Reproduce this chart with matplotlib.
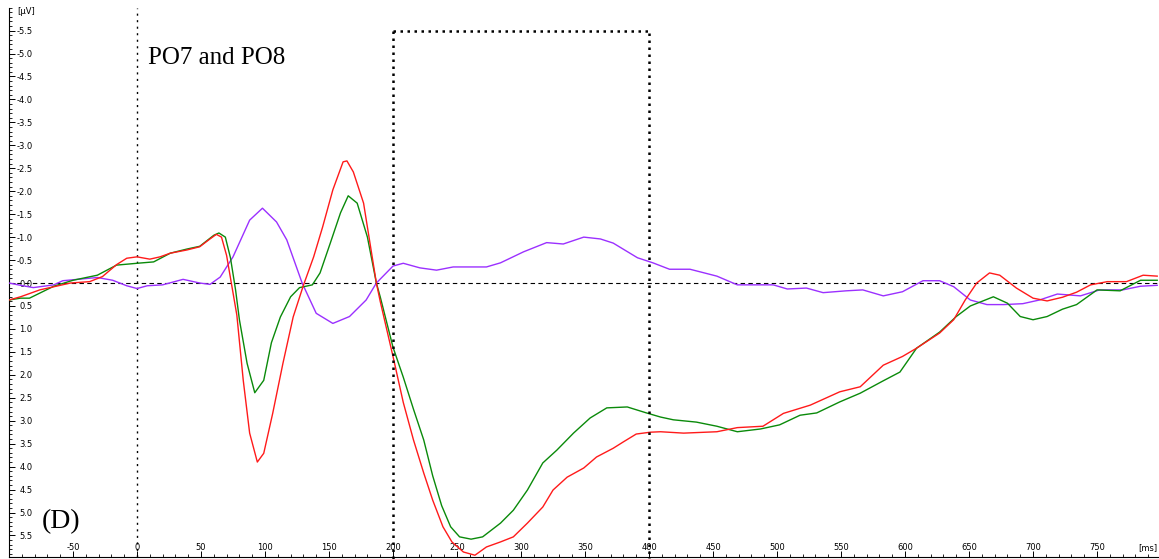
import numpy as np
import matplotlib
matplotlib.use("Agg")
import matplotlib.pyplot as plt
from matplotlib.ticker import MultipleLocator, FixedLocator, FuncFormatter

# grand-average ERP at PO7/PO8, negative up
red_t = [-100, -91, -76, -60, -52, -37, -27, -16, -8, 0, 10, 18, 26, 39, 49, 57, 62, 66, 70, 74,
         78, 83, 88, 94, 99, 106, 114, 122, 130, 138, 145, 153, 161, 164, 169, 177, 182, 187, 190, 195,
         200, 208, 216, 224, 231, 239, 246, 255, 264, 273, 284, 294, 305, 317, 325, 336, 349, 359, 372, 380,
         390, 401, 409, 427, 453, 469, 489, 505, 526, 549, 565, 583, 598, 609, 627, 638, 647, 656, 666, 674,
         687, 700, 711, 723, 734, 745, 758, 773, 786, 797]
red_v = [0.37, 0.3, 0.15, 0.05, 0.0, -0.03, -0.14, -0.4, -0.54, -0.57, -0.52, -0.57, -0.65, -0.72, -0.79, -0.96, -1.06, -1.0, -0.6, 0.05,
         0.7, 2.12, 3.27, 3.9, 3.71, 2.84, 1.75, 0.74, 0.05, -0.57, -1.22, -2.03, -2.64, -2.66, -2.42, -1.74, -0.87, 0.0, 0.4, 1.0,
         1.6, 2.6, 3.42, 4.14, 4.73, 5.31, 5.64, 5.86, 5.93, 5.75, 5.64, 5.53, 5.23, 4.88, 4.51, 4.23, 4.03, 3.79, 3.6, 3.46,
         3.29, 3.25, 3.24, 3.27, 3.24, 3.15, 3.12, 2.84, 2.66, 2.37, 2.26, 1.79, 1.6, 1.42, 1.09, 0.8, 0.37, 0.0, -0.22, -0.17,
         0.11, 0.33, 0.39, 0.31, 0.2, 0.04, -0.03, -0.03, -0.17, -0.15]

green_t = [-100, -91, -84, -65, -50, -31, -16, 0, 13, 26, 39, 49, 60, 64, 69, 73, 77, 80, 86, 92,
           99, 105, 112, 120, 127, 137, 143, 151, 159, 165, 172, 180, 187, 190, 200, 208, 216, 224, 231, 238,
           245, 252, 261, 270, 284, 294, 305, 317, 328, 341, 354, 367, 383, 398, 409, 419, 437, 453, 469, 487,
           502, 518, 531, 549, 565, 583, 596, 609, 627, 640, 651, 669, 680, 690, 700, 711, 723, 734, 750, 768,
           784, 797]
green_v = [0.37, 0.33, 0.33, 0.07, -0.06, -0.17, -0.39, -0.43, -0.46, -0.65, -0.74, -0.8, -1.04, -1.09, -1.0, -0.55, 0.15, 0.8, 1.75, 2.39,
           2.12, 1.3, 0.74, 0.3, 0.1, 0.04, -0.22, -0.87, -1.53, -1.9, -1.74, -1.0, 0.0, 0.3, 1.4, 2.05, 2.75, 3.42, 4.2, 4.85,
           5.31, 5.53, 5.58, 5.53, 5.23, 4.95, 4.51, 3.92, 3.64, 3.27, 2.94, 2.72, 2.7, 2.83, 2.92, 2.98, 3.03, 3.12, 3.24, 3.18,
           3.09, 2.88, 2.83, 2.59, 2.4, 2.13, 1.94, 1.42, 1.07, 0.73, 0.5, 0.3, 0.44, 0.73, 0.8, 0.73, 0.57, 0.47, 0.15, 0.17,
           -0.06, -0.06]

purple_t = [-100, -91, -81, -65, -58, -31, -19, -8, 0, 8, 20, 36, 49, 57, 65, 75, 88, 98, 109, 117,
            129, 140, 153, 166, 179, 187, 200, 208, 221, 234, 247, 260, 273, 284, 302, 320, 333, 349, 362, 372,
            391, 403, 416, 432, 453, 469, 497, 508, 523, 536, 554, 567, 583, 598, 614, 627, 638, 651, 664, 677,
            692, 705, 719, 737, 752, 770, 784, 797]
purple_v = [0.0, 0.05, 0.1, 0.04, -0.05, -0.12, -0.06, 0.06, 0.12, 0.06, 0.04, -0.08, 0.0, 0.03, -0.13, -0.57, -1.37, -1.63, -1.33, -0.94,
            0.0, 0.66, 0.88, 0.73, 0.37, 0.0, -0.37, -0.43, -0.33, -0.28, -0.35, -0.35, -0.35, -0.44, -0.68, -0.88, -0.85, -1.0, -0.96, -0.87,
            -0.55, -0.44, -0.3, -0.3, -0.15, 0.04, 0.04, 0.13, 0.11, 0.21, 0.17, 0.15, 0.28, 0.19, -0.05, -0.05, 0.08, 0.37, 0.47, 0.47,
            0.45, 0.37, 0.24, 0.28, 0.15, 0.15, 0.07, 0.05]

win_start, win_end = 200, 400
x_ticks = list(range(-50, 800, 50))
y_ticks = list(np.arange(-5.5, 5.51, 0.5))

fig = plt.figure(figsize=(11.59, 5.59), dpi=100)
ax = fig.add_axes([9 / 1159, 2.4 / 559, 1 - 9 / 1159, 549 / 559])

ax.set_xlim(-100, 798.4)
ax.set_ylim(5.96, -6.0)

ax.spines["top"].set_visible(False)
ax.spines["right"].set_visible(False)
for s in ("left", "bottom"):
    ax.spines[s].set_linewidth(0.8)

# zero lines
ax.axhline(0, color="black", lw=0.8, ls=(0, (4, 3)), zorder=1)
ax.axvline(0, color="black", lw=1.0, ls=(0, (1.5, 3.2)), zorder=1)

ax.plot(purple_t, purple_v, color="#9b30ff", lw=1.0, zorder=3)
ax.plot(green_t, green_v, color="#0a8a0a", lw=1.0, zorder=4)
ax.plot(red_t, red_v, color="#ff1a1a", lw=1.0, zorder=5)

# analysis window
box_ls = (0, (1, 1.8))
kw = dict(color="black", lw=1.8, ls=box_ls, clip_on=False, zorder=6)
ax.plot([win_start, win_start], [-5.5, 6.05], **kw)
ax.plot([win_end, win_end], [-5.45, 6.05], **kw)
ax.plot([win_start, win_end], [-5.5, -5.5], **kw)
ax.plot([win_start, win_end], [6.05, 6.05], **kw)

ax.xaxis.set_major_locator(FixedLocator(x_ticks))
ax.xaxis.set_minor_locator(MultipleLocator(10))
ax.yaxis.set_major_locator(FixedLocator(y_ticks))
ax.yaxis.set_minor_locator(MultipleLocator(0.1))
ax.yaxis.set_major_formatter(FuncFormatter(lambda v, p: f"{v:.1f}"))
ax.xaxis.set_major_formatter(FuncFormatter(lambda v, p: f"{v:.0f}"))

ax.tick_params(axis="both", which="major", direction="in", length=4, width=0.7, labelsize=6)
ax.tick_params(axis="both", which="minor", direction="in", length=2, width=0.6)
ax.tick_params(axis="y", which="major", pad=-17)
ax.tick_params(axis="x", which="major", pad=-10)

fig.text(17 / 1159, 1 - 12 / 559, "[µV]", fontsize=6, ha="left", va="center")
fig.text(1157 / 1159, 1 - 548 / 559, "[ms]", fontsize=6, ha="right", va="center")

fig.text(148 / 1159, 1 - 58 / 559, "PO7 and PO8",
         family="Liberation Serif", fontsize=18, ha="left", va="center")
fig.text(42 / 1159, 1 - 522 / 559, "(D)",
         family="Liberation Serif", fontsize=20, ha="left", va="center")

fig.savefig("out.png", dpi=100)
